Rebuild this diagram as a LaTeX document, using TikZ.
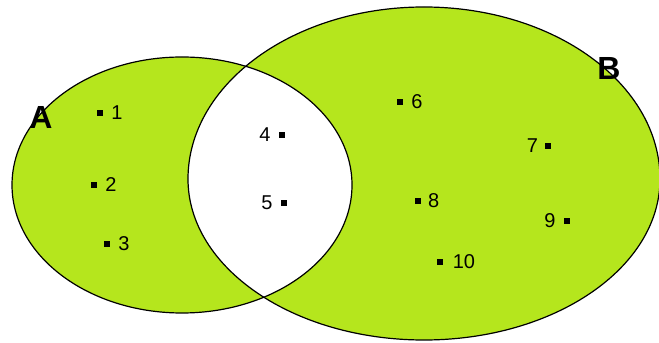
\documentclass[tikz,border=0pt]{standalone}
\usepackage{fontspec}
\setmainfont{Liberation Sans}
\usepackage{xcolor}
\usepackage{tikz}
\usetikzlibrary{positioning}
\definecolor{setLime}{HTML}{B5E61D}

\begin{document}
\begin{tikzpicture}[x=0.75pt, y=0.75pt,
    elem/.style={fill=black, inner sep=0pt, minimum size=4.4pt},
    num/.style={inner sep=0pt, font=\fontsize{15}{18}\selectfont},
    setname/.style={inner sep=0pt, font=\fontsize{24}{28}\selectfont\bfseries},
  ]
  \useasboundingbox (0,0) rectangle (659,342);
  \clip (0,0) rectangle (659,342);
  % only the symmetric difference is shaded
  \fill[setLime, even odd rule]
    (182,157) ellipse [x radius=170, y radius=128]
    (188,163) arc[start angle=180, end angle=0, x radius=236, y radius=172]
              arc[start angle=0, end angle=-180, x radius=236, y radius=161] -- cycle;
  \draw[line width=0.9pt] (182,157) ellipse [x radius=170, y radius=128];
  \draw[line width=0.9pt]
    (188,163) arc[start angle=180, end angle=0, x radius=236, y radius=172]
              arc[start angle=0, end angle=-180, x radius=236, y radius=161] -- cycle;

  \node[setname] (setA) at (41,225) {A};
  \node[setname] (setB) at (609,274) {B};

  % elements of A only
  \node[elem] (e1) at (100,229) {};
  \node[elem] (e2) at (94,157) {};
  \node[elem] (e3) at (107,98) {};
  % elements of both
  \node[elem] (e4) at (282,207) {};
  \node[elem] (e5) at (284,139) {};
  % elements of B only
  \node[elem] (e6) at (400,240) {};
  \node[elem] (e7) at (548,196) {};
  \node[elem] (e8) at (418,141) {};
  \node[elem] (e9) at (567,121) {};
  \node[elem] (e10) at (440,80) {};

  \node[num, right=6pt of e1] (n1) {1};
  \node[num, right=6pt of e2] (n2) {2};
  \node[num, right=6pt of e3] (n3) {3};
  \node[num, left=6pt of e4]  (n4) {4};
  \node[num, left=6pt of e5]  (n5) {5};
  \node[num, right=6pt of e6] (n6) {6};
  \node[num, left=5pt of e7]  (n7) {7};
  \node[num, right=5pt of e8] (n8) {8};
  \node[num, left=6pt of e9]  (n9) {9};
  \node[num, right=7pt of e10] (n10) {10};
\end{tikzpicture}
\end{document}
